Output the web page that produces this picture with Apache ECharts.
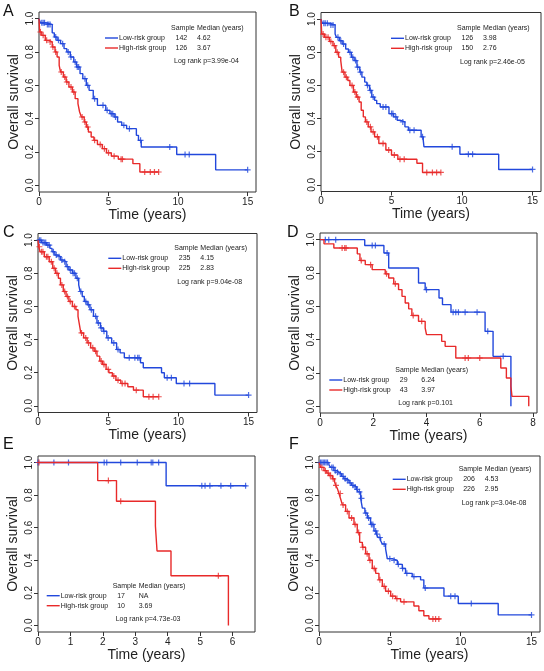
<!DOCTYPE html>
<html><head><meta charset="utf-8">
<script src="https://cdn.jsdelivr.net/npm/echarts@6/dist/echarts.min.js"></script>
<style>html,body{margin:0;padding:0;background:#fff}#c{width:544px;height:671px}</style>
</head><body><div id="c"></div>
<script>
// ---------------- DATA ----------------
const panelLetters = ['A','B','C','D','E','F'];
const groupNames = ['Low-risk group','High-risk group'];
const samplesLow  = [142, 126, 235, 29, 17, 206];
const samplesHigh = [126, 150, 225, 43, 10, 226];
const mediansLow  = ['4.62','3.98','4.15','6.24','NA','4.53'];
const mediansHigh = ['3.67','2.76','2.83','3.97','3.69','2.95'];
const pValues = ['3.99e-04','2.46e-05','9.04e-08','0.101','4.73e-03','3.04e-08'];
const yTicks = [0, 0.2, 0.4, 0.6, 0.8, 1.0];
const xTicksLong = [0, 5, 10, 15];
const xTicksD = [0, 2, 4, 6, 8];
const xTicksE = [0, 1, 2, 3, 4, 5, 6];

// Panel A
const aLowT = [0,0.1,0.5,0.95,1.1,1.3,1.55,1.8,2.0,2.25,2.5,2.7,2.95,3.15,3.4,3.6,3.9,4.2,4.8,5.1,5.4,5.65,5.95,6.3,7.0,7.15,7.35,9.9,12.7,15.0];
const aLowS = [1,0.975,0.965,0.915,0.89,0.87,0.85,0.82,0.80,0.77,0.74,0.71,0.67,0.64,0.60,0.57,0.52,0.48,0.45,0.43,0.41,0.38,0.36,0.34,0.30,0.27,0.23,0.185,0.093,0.093];
const aLowC = [0.2,0.3,0.4,0.6,0.7,0.8,1.2,1.4,1.7,2.1,2.3,2.6,2.75,2.85,3.3,3.5,4.0,4.6,4.9,5.2,5.3,5.5,6.1,6.5,7.3,9.4,10.5,10.8,15.0];
const aHighT = [0,0.05,0.2,0.45,0.7,0.95,1.15,1.3,1.45,1.55,1.75,1.95,2.15,2.4,2.6,2.8,2.92,3.05,3.25,3.4,3.55,3.75,3.95,4.2,4.55,4.85,5.2,5.7,6.75,7.25,8.6];
const aHighS = [1,0.92,0.90,0.87,0.86,0.83,0.80,0.77,0.72,0.68,0.65,0.62,0.59,0.56,0.52,0.49,0.44,0.41,0.38,0.35,0.32,0.29,0.27,0.245,0.22,0.195,0.175,0.157,0.13,0.08,0.08];
const aHighC = [0.1,0.3,0.55,0.8,1.0,1.2,1.6,1.85,2.0,2.3,2.5,3.1,3.3,3.5,4.0,4.4,4.7,5.0,5.4,5.9,6.0,7.6,8.0,8.3,8.6];

// Panel B
const bLowT = [0,0.1,0.6,1.0,1.1,1.3,1.5,1.75,1.95,2.15,2.35,2.55,2.75,2.9,3.1,3.25,3.45,3.6,3.8,3.95,4.2,4.82,5.15,5.4,5.6,5.95,6.2,7.1,7.25,7.3,9.85,12.6,15.0];
const bLowS = [1,0.975,0.965,0.91,0.89,0.87,0.85,0.82,0.80,0.77,0.75,0.71,0.68,0.65,0.62,0.60,0.57,0.53,0.51,0.49,0.47,0.43,0.41,0.39,0.38,0.35,0.33,0.29,0.27,0.23,0.185,0.093,0.093];
const bLowC = [0.2,0.3,0.45,0.7,0.85,1.2,1.4,1.6,2.05,2.25,2.45,2.6,2.8,3.3,3.5,3.7,4.4,4.6,5.0,5.1,5.3,5.8,6.3,6.6,7.2,9.3,10.45,10.75,15.0];
const bHighT = [0,0.05,0.25,0.6,0.85,1.05,1.25,1.4,1.5,1.7,1.9,2.05,2.3,2.5,2.7,2.85,3.0,3.15,3.35,3.55,3.8,4.1,4.6,5.0,5.45,6.8,7.2,8.5];
const bHighS = [1,0.91,0.89,0.865,0.84,0.80,0.77,0.75,0.68,0.65,0.63,0.60,0.56,0.53,0.50,0.45,0.41,0.38,0.35,0.32,0.29,0.25,0.21,0.18,0.155,0.13,0.075,0.075];
const bHighC = [0.15,0.35,0.5,0.7,0.95,1.15,1.6,1.8,2.2,2.4,2.6,3.25,3.5,3.7,4.0,4.4,4.8,5.2,5.6,5.9,7.5,7.9,8.2,8.5];

// Panel C
const cLowT = [0,0.25,0.6,0.85,1.0,1.2,1.4,1.6,1.8,2.0,2.2,2.45,2.7,2.9,3.0,3.15,3.3,3.5,3.7,3.95,4.2,4.45,4.65,4.9,5.25,5.6,5.85,6.15,7.3,7.5,8.8,9.0,9.85,12.6,15.0];
const cLowS = [1,0.985,0.97,0.95,0.93,0.91,0.90,0.88,0.87,0.84,0.82,0.80,0.77,0.73,0.69,0.66,0.63,0.61,0.58,0.54,0.50,0.47,0.45,0.41,0.38,0.34,0.32,0.29,0.26,0.23,0.20,0.17,0.135,0.065,0.065];
const cLowC = [0.1,0.2,0.35,0.45,0.55,0.7,0.8,1.1,1.3,1.5,1.7,1.9,2.1,2.3,2.5,2.6,2.8,3.05,3.4,3.6,3.8,4.1,4.3,4.5,4.7,5.0,5.4,5.7,6.5,6.9,7.1,7.2,9.2,9.5,10.4,10.8,15.0];
const cHighT = [0,0.05,0.15,0.45,0.8,1.05,1.25,1.45,1.6,1.8,2.0,2.2,2.45,2.7,2.85,2.95,3.05,3.25,3.5,3.75,4.0,4.2,4.4,4.6,4.85,5.05,5.3,5.55,5.9,6.4,6.8,7.5,8.6];
const cHighS = [1,0.96,0.93,0.90,0.87,0.83,0.80,0.77,0.73,0.69,0.66,0.63,0.60,0.58,0.54,0.49,0.44,0.41,0.38,0.35,0.33,0.30,0.27,0.25,0.22,0.20,0.18,0.155,0.135,0.115,0.095,0.055,0.055];
const cHighC = [0.1,0.25,0.35,0.6,0.7,0.95,1.15,1.35,1.7,1.9,2.1,2.3,2.6,3.1,3.4,3.6,3.9,4.1,4.5,4.7,5.0,5.4,5.7,6.0,6.2,7.0,7.9,8.2,8.6];

// Panel D
const dLowT = [0,1.68,2.4,2.58,3.7,3.95,4.47,4.6,4.92,6.2,6.5,7.17];
const dLowS = [1,0.965,0.92,0.83,0.74,0.70,0.65,0.61,0.565,0.45,0.30,0];
const dLowC = [0.2,0.33,0.59,1.96,2.08,2.52,4.0,5.0,5.1,5.2,5.45,5.9,6.3,6.88];
const dHighT = [0,0.15,0.52,1.4,1.5,1.7,1.96,2.45,2.58,2.77,2.95,3.08,3.2,3.33,3.45,3.7,3.95,4.0,4.57,4.7,5.1,6.79,7.0,7.17,7.21,7.84];
const dHighS = [1,0.975,0.95,0.915,0.875,0.85,0.82,0.795,0.77,0.735,0.70,0.66,0.62,0.585,0.545,0.51,0.47,0.43,0.39,0.36,0.29,0.23,0.17,0.12,0.06,0];
const dHighC = [0.83,0.93,0.98,1.55,1.9,2.5,2.83,3.5,3.82,5.45,5.57,6.0];

// Panel E
const eLowT = [0,3.95,6.43];
const eLowS = [1,0.857,0.857];
const eLowC = [0,0.49,0.94,2.04,2.12,2.55,3.06,3.49,3.54,3.72,5.05,5.15,5.3,5.64,5.94,6.4];
const eHighT = [0,1.84,2.42,3.62,3.67,4.1,5.87];
const eHighS = [1,0.889,0.762,0.610,0.457,0.305,0];
const eHighC = [0.03,2.17,2.55,5.56];

// Panel F
const fLowT = [0,0.7,0.82,1.06,1.25,1.41,1.6,1.76,1.95,2.12,2.3,2.47,2.65,2.77,2.94,3.06,3.24,3.41,3.64,3.88,4.05,4.18,4.35,4.47,4.7,4.82,5.17,5.53,5.88,6.11,6.58,7.17,7.4,8.82,9.83,12.65,15.0];
const fLowS = [1,0.985,0.97,0.95,0.94,0.93,0.915,0.90,0.89,0.875,0.86,0.85,0.835,0.82,0.78,0.72,0.69,0.66,0.62,0.58,0.56,0.54,0.52,0.50,0.47,0.41,0.40,0.375,0.35,0.32,0.30,0.28,0.23,0.18,0.135,0.065,0.065];
const fLowC = [0.1,0.2,0.3,0.4,0.5,0.6,0.9,1.0,1.15,1.3,1.5,1.7,1.85,2.0,2.2,2.4,2.55,2.7,2.85,3.0,3.3,3.5,3.7,3.8,4.0,4.1,4.3,4.6,5.0,5.3,5.6,5.9,6.2,6.7,7.5,9.3,9.6,10.75,15.0];
const fHighT = [0,0.12,0.35,0.55,0.7,0.94,1.1,1.18,1.3,1.41,1.55,1.65,1.88,2.12,2.47,2.7,2.87,3.06,3.29,3.53,3.76,4.0,4.23,4.47,4.7,5.06,5.41,5.76,6.7,7.05,7.4,7.76,8.58];
const fHighS = [1,0.97,0.95,0.935,0.92,0.90,0.88,0.86,0.84,0.81,0.77,0.74,0.70,0.66,0.62,0.57,0.51,0.48,0.44,0.40,0.35,0.32,0.28,0.24,0.21,0.18,0.165,0.145,0.12,0.09,0.06,0.04,0.04];
const fHighC = [0.2,0.45,0.65,0.8,1.0,1.2,1.5,1.7,2.0,2.3,2.55,2.8,3.1,3.4,3.6,3.9,4.3,4.6,4.9,5.2,5.5,6.0,8.04,8.23,8.46];

// ---------------- LAYOUT ----------------
const FONT = 'Liberation Sans, Arial, Helvetica, sans-serif';
const BLUE = '#2248dc';
const RED = '#e82a2a';
const INK = '#222';
const PLUS = 'path://M4,0L6,0L6,4L10,4L10,6L6,6L6,10L4,10L4,6L0,6L0,4L4,4Z';

const panels = [
  {low:[aLowT,aLowS,aLowC], high:[aHighT,aHighS,aHighC], xMax:15.6, xTicks:xTicksLong,
   grid:{left:39,top:12,width:217,height:180}, leg:[105,28], letter:[3,12.5]},
  {low:[bLowT,bLowS,bLowC], high:[bHighT,bHighS,bHighC], xMax:15.6, xTicks:xTicksLong,
   grid:{left:321,top:12.5,width:220,height:179}, leg:[391,28.3], letter:[289,12.5]},
  {low:[cLowT,cLowS,cLowC], high:[cHighT,cHighS,cHighC], xMax:15.6, xTicks:xTicksLong,
   grid:{left:38,top:233.5,width:219,height:179}, leg:[108.3,248.3], letter:[3,233.5]},
  {low:[dLowT,dLowS,dLowC], high:[dHighT,dHighS,dHighC], xMax:8.15, xTicks:xTicksD,
   grid:{left:320,top:233,width:217,height:180}, leg:[329.3,370], letter:[287,234]},
  {low:[eLowT,eLowS,eLowC], high:[eHighT,eHighS,eHighC], xMax:6.69, xTicks:xTicksE,
   grid:{left:38,top:456,width:217,height:176}, leg:[46.7,585.7], letter:[3,446]},
  {low:[fLowT,fLowS,fLowC], high:[fHighT,fHighS,fHighC], xMax:15.6, xTicks:xTicksLong,
   grid:{left:319,top:456,width:221,height:176}, leg:[392.7,469.3], letter:[289,446]}
];

function survAt(T, S, t) {
  let v = S[0];
  for (let i = 0; i < T.length; i++) { if (T[i] <= t) v = S[i]; else break; }
  return v;
}

const grids = [], xAxes = [], yAxes = [], series = [], graphics = [];
panels.forEach((p, i) => {
  grids.push(Object.assign({show:true, borderColor:'#333', borderWidth:1, backgroundColor:'transparent'}, p.grid));
  xAxes.push({
    gridIndex:i, type:'value', min:0, max:p.xMax,
    axisLine:{show:false, onZero:false}, splitLine:{show:false},
    axisTick:{show:true, inside:false, length:4, customValues:p.xTicks, lineStyle:{color:'#333', width:1}},
    axisLabel:{customValues:p.xTicks, fontSize:10, color:INK, margin:5, fontFamily:FONT},
    name:'Time (years)', nameLocation:'middle', nameGap:14,
    nameTextStyle:{fontSize:14, color:INK, fontFamily:FONT}
  });
  yAxes.push({
    gridIndex:i, type:'value', min:-0.04, max:1.04,
    axisLine:{show:false, onZero:false}, splitLine:{show:false},
    axisTick:{show:true, inside:false, length:4, customValues:yTicks, lineStyle:{color:'#333', width:1}},
    axisLabel:{customValues:yTicks, fontSize:10, color:INK, margin:4, rotate:90, fontFamily:FONT,
      formatter: v => Number(v).toFixed(1)},
    name:'Overall survival', nameLocation:'middle', nameGap:18,
    nameTextStyle:{fontSize:14, color:INK, fontFamily:FONT}
  });
  [[p.low, BLUE, groupNames[0]], [p.high, RED, groupNames[1]]].forEach(([g, col, nm]) => {
    const [T, S, C] = g;
    series.push({
      type:'line', name:nm, xAxisIndex:i, yAxisIndex:i, step:'end', showSymbol:false, symbol:'none',
      data:T.map((t, k) => [t, S[k]]), lineStyle:{color:col, width:1.4}, animation:false, silent:true
    });
    series.push({
      type:'scatter', name:nm, xAxisIndex:i, yAxisIndex:i, symbol:PLUS, symbolSize:6,
      data:C.map(t => [t, survAt(T, S, t)]), itemStyle:{color:col}, animation:false, silent:true
    });
  });
  // panel letter
  graphics.push({type:'text', left:p.letter[0], top:p.letter[1] - 9,
    style:{text:panelLetters[i], font:'16px ' + FONT, fill:'#111'}});
  // legend block
  const [lx, ly] = p.leg;
  const t7 = (txt, x, y) => ({type:'text', x:x, y:y,
    style:{text:txt, font:'7px ' + FONT, fill:INK, align:'left', verticalAlign:'middle'}});
  graphics.push(t7('Sample', lx + 66, ly));
  graphics.push(t7('Median (years)', lx + 92, ly));
  [[BLUE, groupNames[0], samplesLow[i], mediansLow[i], 10], [RED, groupNames[1], samplesHigh[i], mediansHigh[i], 20]]
    .forEach(([col, nm, n, med, dy]) => {
      graphics.push({type:'line', shape:{x1:lx, y1:ly + dy, x2:lx + 13, y2:ly + dy}, style:{stroke:col, lineWidth:1.4}});
      graphics.push(t7(nm, lx + 14, ly + dy));
      graphics.push(t7(String(n), lx + 70.5, ly + dy));
      graphics.push(t7(med, lx + 92, ly + dy));
    });
  graphics.push(t7('Log rank p=' + pValues[i], lx + 69, ly + 33.5));
});

const chart = echarts.init(document.getElementById('c'), null, {renderer:'canvas'});
chart.setOption({
  animation:false,
  backgroundColor:'#fff',
  grid:grids, xAxis:xAxes, yAxis:yAxes, series:series, graphic:graphics
});
</script></body></html>
